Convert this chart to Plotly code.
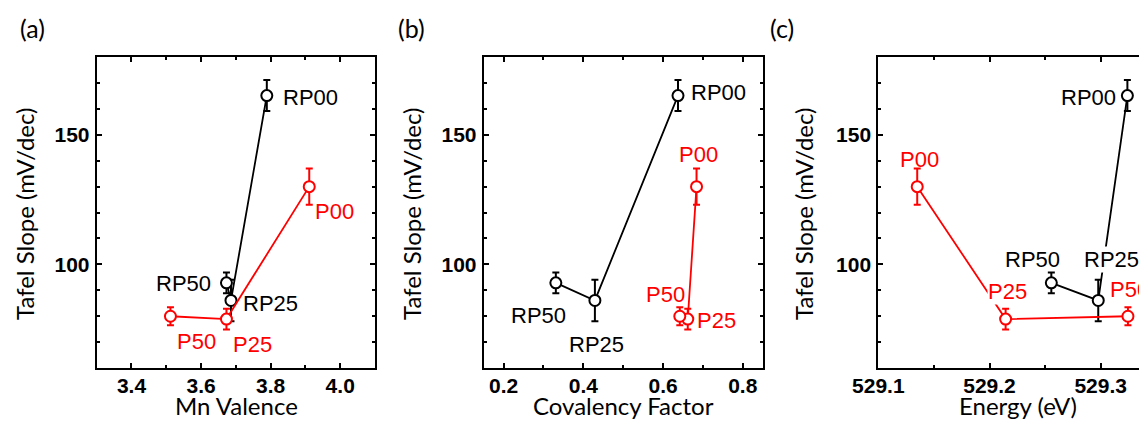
import plotly.graph_objects as go

# ---- data ----
samples = ["00", "25", "50"]
p_labels = ["P00", "P25", "P50"]
rp_labels = ["RP00", "RP25", "RP50"]

p_tafel = [130.0, 78.8, 79.9]
p_err = [7.0, 4.0, 3.5]
rp_tafel = [165.2, 86.0, 92.8]
rp_err = [6.0, 8.0, 4.0]

p_mn_valence = [3.911, 3.673, 3.512]
rp_mn_valence = [3.789, 3.686, 3.673]

p_covalency = [0.684, 0.662, 0.642]
rp_covalency = [0.6375, 0.429, 0.331]

p_energy = [529.135, 529.2145, 529.3245]
rp_energy = [529.324, 529.2978, 529.2556]

panel_letters = ["(a)", "(b)", "(c)"]
x_titles = ["Mn Valence", "Covalency Factor", "Energy (eV)"]
y_title = "Tafel Slope (mV/dec)"

RED = "#ff0000"
BLACK = "#000000"
# page body has an 8px default margin: figure drawn inside it
OFF = 8
W, H = 1147 - OFF, 421 - OFF

def fx(px):
    return (px - OFF) / W

def fy(py):
    return 1 - (py - OFF) / H

fig = go.Figure()

panels = [
    (p_mn_valence, rp_mn_valence, "x", "y"),
    (p_covalency, rp_covalency, "x2", "y2"),
    (p_energy, rp_energy, "x3", "y3"),
]

for px_, rpx, xa, ya in panels:
    for xs, ys, es, col in [(rpx, rp_tafel, rp_err, BLACK), (px_, p_tafel, p_err, RED)]:
        fig.add_trace(go.Scatter(
            x=xs, y=ys, xaxis=xa, yaxis=ya, mode="lines+markers",
            line=dict(color=col, width=1.8),
            marker=dict(symbol="circle", size=11, color="white",
                        line=dict(color=col, width=2)),
            error_y=dict(type="data", array=es, visible=True, color=col,
                         thickness=2, width=3.5),
            showlegend=False, cliponaxis=False,
        ))

tick_font = dict(family="Liberation Sans, Arial", size=21, color="black", weight="bold")

def xaxis(domain, rng, dtick, minor_dtick, anchor):
    return dict(domain=domain, range=rng, anchor=anchor, dtick=dtick, tick0=0,
                tickformat=".1f", ticks="inside", ticklen=5, tickwidth=2,
                tickcolor="black", showline=True, linewidth=2, linecolor="black",
                mirror="ticks", showgrid=False, zeroline=False, automargin=False,
                tickfont=tick_font, ticklabelstandoff=-2,
                minor=dict(dtick=minor_dtick, tick0=0, ticks="inside", ticklen=3,
                           tickwidth=2, tickcolor="black", showgrid=False))

def yaxis(domain, anchor, mirror="ticks"):
    return dict(domain=domain, range=[60, 180], anchor=anchor, dtick=50, tick0=0,
                ticks="inside", ticklen=5, tickwidth=2, tickcolor="black",
                showline=True, linewidth=2, linecolor="black", mirror=mirror,
                showgrid=False, zeroline=False, tickfont=tick_font, automargin=False,
                ticklabelstandoff=1,
                minor=dict(dtick=10, tick0=0, ticks="inside", ticklen=3,
                           tickwidth=2, tickcolor="black", showgrid=False))

ydom = [fy(367.7), fy(57.3)]
xdom_a = [fx(96.7), fx(375.0)]
xdom_b = [fx(483.7), fx(762.7)]
xdom_c = [fx(878.3), 1.0]
c_right = 529.1 + (W + OFF - 878.3) / 1112.0

fig.update_layout(
    width=W, height=H,
    margin=dict(l=0, r=0, t=0, b=0),
    paper_bgcolor="white", plot_bgcolor="white",
    xaxis=xaxis(xdom_a, [3.3, 4.1], 0.2, 0.1, "y"),
    xaxis2=xaxis(xdom_b, [0.15, 0.85], 0.2, 0.1, "y2"),
    xaxis3=xaxis(xdom_c, [529.1, c_right], 0.1, 0.05, "y3"),
    yaxis=yaxis(ydom, "x"),
    yaxis2=yaxis(ydom, "x2"),
    yaxis3=yaxis(ydom, "x3", mirror=False),
)

ann = []
title_font = dict(family="Lato, Open Sans", size=24, color="black")
# panel letters
for letter, cx in zip(panel_letters, [32, 411, 782]):
    ann.append(dict(text=letter, x=fx(cx), y=fy(28), xref="paper", yref="paper",
                    showarrow=False, xanchor="center", yanchor="middle",
                    font=dict(family="Lato, Open Sans", size=25, color="black")))
# x titles
for t, cx in zip(x_titles, [236, 623, 1017.5]):
    ann.append(dict(text=t, x=fx(cx), y=fy(405), xref="paper", yref="paper",
                    showarrow=False, xanchor="center", yanchor="middle", font=title_font))
# y titles
for cx in [24, 411, 803]:
    ann.append(dict(text=y_title, x=fx(cx), y=fy(214), xref="paper", yref="paper",
                    showarrow=False, xanchor="center", yanchor="middle", textangle=-90,
                    font=title_font))

lab_font = dict(family="Liberation Sans, Arial", size=22)

def lab(text, x, y, xa, ya, anchor, col, bg=None):
    d = dict(text=text, x=x, y=y, xref=xa, yref=ya, showarrow=False,
             xanchor=anchor, yanchor="middle", font=dict(color=col, **lab_font),
             borderpad=0)
    if bg:
        d["bgcolor"] = bg
    return d

# panel (a)
ann += [
    lab("RP00", 3.834, 164.3, "x", "y", "left", BLACK),
    lab("P00", 3.926, 120.5, "x", "y", "left", RED),
    lab("RP50", 3.6305, 92.4, "x", "y", "right", BLACK),
    lab("RP25", 3.717, 85.0, "x", "y", "left", BLACK),
    lab("P50", 3.586, 70.1, "x", "y", "center", RED),
    lab("P25", 3.747, 68.8, "x", "y", "center", RED),
]
# panel (b)
ann += [
    lab("RP00", 0.6685, 166.2, "x2", "y2", "left", BLACK),
    lab("P00", 0.6887, 142.5, "x2", "y2", "center", RED),
    lab("RP50", 0.2874, 80.1, "x2", "y2", "center", BLACK),
    lab("RP25", 0.4335, 68.8, "x2", "y2", "center", BLACK),
    lab("P50", 0.6584, 88.3, "x2", "y2", "right", RED),
    lab("P25", 0.6836, 78.3, "x2", "y2", "left", RED),
]
# panel (c)
ann += [
    lab("RP00", 529.3143, 164.5, "x3", "y3", "right", BLACK),
    lab("P00", 529.1369, 140.5, "x3", "y3", "center", RED),
    lab("RP50", 529.2389, 101.9, "x3", "y3", "center", BLACK),
    lab("RP25", 529.31, 101.9, "x3", "y3", "center", BLACK, bg="white"),
    lab("P25", 529.216, 89.6, "x3", "y3", "center", RED, bg="white"),
    lab("P50", 529.3074, 90.3, "x3", "y3", "left", RED),
]
fig.update_layout(annotations=ann)

fig.write_html("out.html")
